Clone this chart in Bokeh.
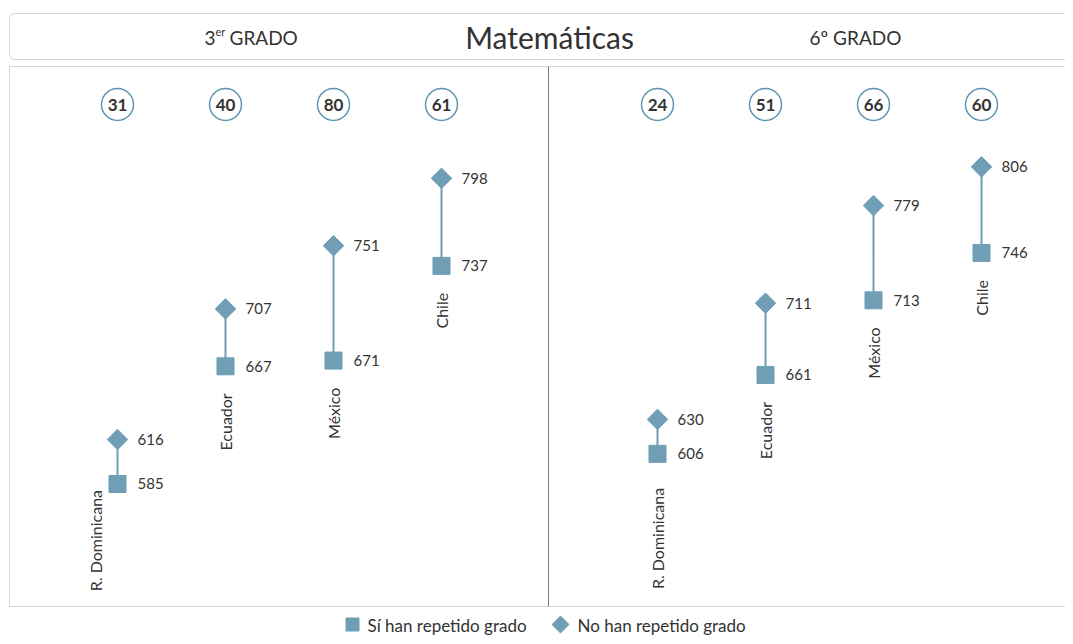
import math
from bokeh.plotting import figure
from bokeh.models import Range1d, BoxAnnotation, ColumnDataSource
from bokeh.core.properties import value
from bokeh.embed import file_html
from bokeh.resources import INLINE

# ---- data ----
countries = ["R. Dominicana", "Ecuador", "México", "Chile"]
grades = ["3er GRADO", "6º GRADO"]
repeated_3 = [585, 667, 671, 737]      # Sí han repetido grado
not_repeated_3 = [616, 707, 751, 798]  # No han repetido grado
repeated_6 = [606, 661, 713, 746]
not_repeated_6 = [630, 711, 779, 806]
diff_3 = [31, 40, 80, 61]
diff_6 = [24, 51, 66, 60]
title = "Matemáticas"
legend_labels = ["Sí han repetido grado", "No han repetido grado"]

# ---- layout / style ----
W, H = 1065, 636
COL = "#6f9eb5"
RING = "#5e95b0"
TXT = "#333333"
BORDER = "#7a7a7a"
FONT = value("Lato")
PXS = 1.435  # pixels per score point
Y0 = 616 + 439 / PXS
Y1 = 616 - (H - 439) / PXS

p = figure(width=W, height=H, output_backend="svg", toolbar_location=None,
           x_range=Range1d(0, W), y_range=Range1d(Y1, Y0), min_border=0)
p.axis.visible = False
p.grid.visible = False
p.outline_line_color = None
p.extra_y_ranges = {"px": Range1d(H, 0)}

# frames
p.add_layout(BoxAnnotation(left=9, right=1200, top=13, bottom=59, y_range_name="px",
                           fill_color=None, line_color=BORDER, line_width=1, border_radius=5))
p.add_layout(BoxAnnotation(left=9, right=1200, top=66, bottom=606, y_range_name="px",
                           fill_color=None, line_color=BORDER, line_width=1))
p.segment(x0=[548], y0=[66], x1=[548], y1=[606], y_range_name="px",
          line_color=BORDER, line_width=1)

# header texts
p.text(x=[549], y=[36], text=[title], y_range_name="px", text_font=FONT,
       text_font_size="30px", text_color=TXT, text_align="center", text_baseline="middle")
p.text(x=[204], y=[37], text=[grades[0][0]], y_range_name="px", text_font=FONT,
       text_font_size="19px", text_color=TXT, text_align="left", text_baseline="middle")
p.text(x=[215], y=[31], text=[grades[0][1:3]], y_range_name="px", text_font=FONT,
       text_font_size="11px", text_color=TXT, text_align="left", text_baseline="middle")
p.text(x=[229], y=[37], text=[grades[0][4:]], y_range_name="px", text_font=FONT,
       text_font_size="19px", text_color=TXT, text_align="left", text_baseline="middle")
p.text(x=[855], y=[37], text=[grades[1]], y_range_name="px", text_font=FONT,
       text_font_size="19px", text_color=TXT, text_align="center", text_baseline="middle")

label_dx = [[-22, 0, 0, 0], [0, 0, 0, 0]]
label_dy = [[6, 27, 27, 27], [34, 27, 27, 27]]

panels = [(9, repeated_3, not_repeated_3, diff_3), (549, repeated_6, not_repeated_6, diff_6)]
for k, (left, rep, norep, diff) in enumerate(panels):
    xs = [left + 108 * (i + 1) for i in range(len(countries))]
    src = ColumnDataSource(dict(x=xs, rep=rep, norep=norep,
                                rep_t=[str(v) for v in rep], norep_t=[str(v) for v in norep],
                                name=countries,
                                ly=[rep[i] - label_dy[k][i] / PXS for i in range(4)],
                                lx=[xs[i] + label_dx[k][i] for i in range(4)]))
    p.segment(x0="x", y0="rep", x1="x", y1="norep", source=src, line_color=COL, line_width=2)
    p.scatter(x="x", y="rep", source=src, marker="square", size=17, fill_color=COL, line_color=COL)
    p.scatter(x="x", y="norep", source=src, marker="square", size=14.5, angle=math.pi / 4,
              fill_color=COL, line_color=COL)
    p.text(x="x", y="rep", text="rep_t", source=src, x_offset=20, text_font=FONT,
           text_font_size="15px", text_color=TXT, text_align="left", text_baseline="middle")
    p.text(x="x", y="norep", text="norep_t", source=src, x_offset=20, text_font=FONT,
           text_font_size="15px", text_color=TXT, text_align="left", text_baseline="middle")
    p.text(x="lx", y="ly", text="name", source=src, angle=math.pi / 2, text_font=FONT,
           text_font_size="16px", text_color=TXT, text_align="right", text_baseline="middle")
    # circles with differences
    csrc = ColumnDataSource(dict(x=xs, y=[104] * 4, t=[str(v) for v in diff]))
    p.scatter(x="x", y="y", source=csrc, y_range_name="px", marker="circle", size=32,
              fill_color="white", line_color=RING, line_width=1.5)
    p.text(x="x", y="y", text="t", source=csrc, y_range_name="px", text_font=FONT,
           text_font_size="17px", text_font_style="bold", text_color=TXT,
           text_align="center", text_baseline="middle")

# legend
p.scatter(x=[352], y=[624], y_range_name="px", marker="square", size=13,
          fill_color=COL, line_color=COL)
p.text(x=[367], y=[625], text=[legend_labels[0]], y_range_name="px", text_font=FONT,
       text_font_size="17px", text_color=TXT, text_align="left", text_baseline="middle")
p.scatter(x=[560], y=[624], y_range_name="px", marker="square", size=12,
          angle=math.pi / 4, fill_color=COL, line_color=COL)
p.text(x=[577], y=[625], text=[legend_labels[1]], y_range_name="px", text_font=FONT,
       text_font_size="17px", text_color=TXT, text_align="left", text_baseline="middle")

open("out.html", "w").write(file_html(p, INLINE))
